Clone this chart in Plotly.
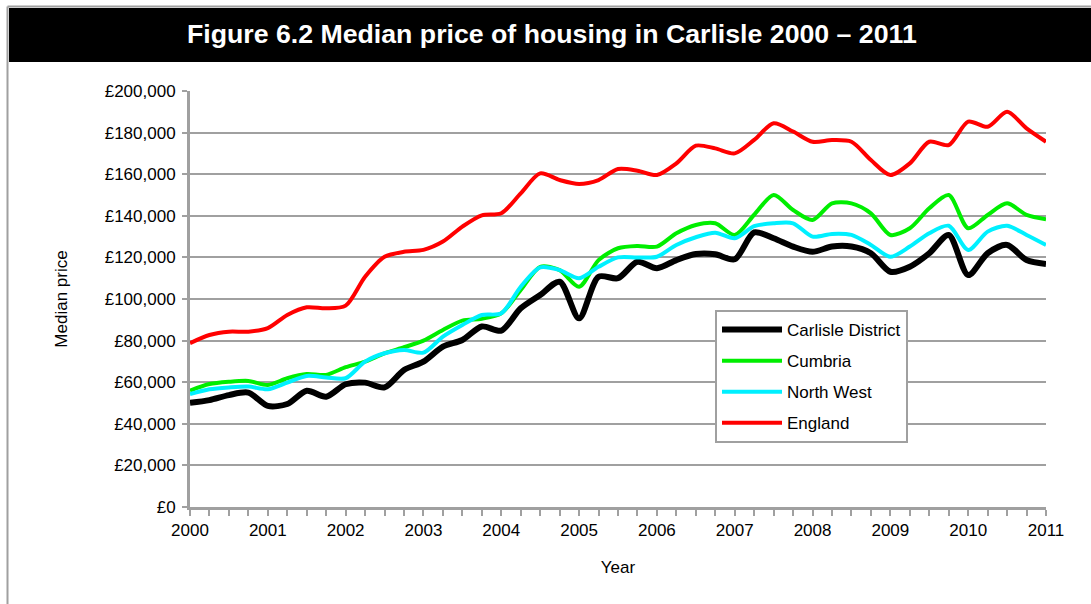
import plotly.graph_objects as go

# Quarterly data, 2000 Q1 .. 2011 Q1
start_year = 2000
n_quarters = 45
quarters = [start_year + i * 0.25 for i in range(n_quarters)]

carlisle = [50100, 51400, 53800, 55000, 48600, 49500, 55900, 53000, 59000, 59800,
            57500, 65900, 69900, 77100, 80300, 86800, 84800, 95500, 101900, 108300,
            90700, 110700, 110000, 117900, 114800, 118700, 121600, 121500, 119100, 132000,
            129200, 125200, 122700, 125200, 125200, 122000, 113100, 115500, 122000, 130800,
            111500, 122000, 126000, 118700, 116800]

cumbria = [56000, 59100, 60200, 60600, 58700, 61900, 63900, 63500, 67200, 69900,
           73900, 76800, 80000, 85100, 89600, 90500, 93100, 104300, 115500, 113900,
           105900, 118700, 124400, 125500, 125200, 131600, 135600, 136400, 130800, 140500,
           150000, 142800, 138000, 146000, 146000, 141200, 130800, 134000, 143600, 150000,
           134000, 140400, 146000, 140400, 138300]

north_west = [54300, 56600, 57500, 57900, 56600, 59800, 63000, 62300, 61900, 69900,
              73900, 75500, 74200, 81900, 87500, 92300, 93100, 105900, 115200, 113900,
              110000, 115500, 120000, 120000, 120300, 126000, 129700, 131900, 129200, 135000,
              136400, 136400, 130000, 131300, 130800, 126000, 120300, 125200, 131600, 135200,
              123600, 132400, 135200, 130800, 126000]

england = [78800, 82700, 84300, 84300, 86000, 92300, 96000, 95500, 96800, 110700,
           120300, 122700, 123600, 127600, 134800, 140200, 141200, 150800, 160400, 157200,
           155300, 157200, 162500, 161700, 159600, 165200, 173700, 172400, 170000, 176500,
           184500, 180500, 175600, 176400, 175600, 166800, 159600, 165200, 175600, 174000,
           185300, 182800, 190000, 182000, 175600]

series_names = ["Carlisle District", "Cumbria", "North West", "England"]
series_values = [carlisle, cumbria, north_west, england]
series_colors = ["#000000", "#00ee00", "#00f0ff", "#ff0000"]
series_widths = [6, 4, 4, 4]

year_ticks = list(range(2000, 2012))
price_ticks = list(range(0, 200001, 20000))
price_labels = [f"£{v:,}" for v in price_ticks]

W, H = 1091, 604
L, R, T, B = 190, 1046, 91, 507

def px(x):
    return (x - L) / (R - L)

def py(y):
    return (B - y) / (B - T)

fig = go.Figure()
for i, (name, vals, col, lw) in enumerate(zip(series_names, series_values, series_colors, series_widths)):
    fig.add_trace(go.Scatter(
        x=quarters, y=vals, name=name, mode="lines",
        line=dict(color=col, width=lw, shape="spline", smoothing=0.8),
        legendgroup=f"g{i}",
    ))

grid_col = "#a0a0a0"
font_family = "Liberation Sans, Arial, sans-serif"

fig.update_layout(
    width=W, height=H,
    margin=dict(l=L, r=W - R, t=T, b=H - B, pad=0),
    paper_bgcolor="white", plot_bgcolor="white",
    font=dict(family=font_family, size=17, color="black"),
    showlegend=True,
    legend=dict(
        x=px(715), y=py(310), xanchor="left", yanchor="top",
        bgcolor="white", bordercolor=grid_col, borderwidth=2,
        font=dict(size=17), tracegroupgap=6, itemwidth=60,
    ),
    xaxis=dict(
        range=[2000, 2011], tickvals=year_ticks, ticktext=[str(y) for y in year_ticks],
        showgrid=False, zeroline=False,
        showline=True, linecolor=grid_col, linewidth=3,
        ticks="outside", ticklen=6, tickwidth=2, tickcolor=grid_col,
        minor=dict(dtick=0.25, tick0=2000, ticks="outside", ticklen=6, tickwidth=2, tickcolor=grid_col, showgrid=False),
        title=dict(text="Year", standoff=22, font=dict(size=17)),
        tickfont=dict(size=17),
    ),
    yaxis=dict(
        range=[0, 200000], tickvals=price_ticks, ticktext=price_labels,
        showgrid=True, gridcolor=grid_col, gridwidth=2,
        zeroline=False,
        showline=True, linecolor=grid_col, linewidth=3,
        ticks="outside", ticklen=5, tickwidth=2, tickcolor=grid_col,
        ticklabelstandoff=3,
        title=dict(text="Median price", standoff=33, font=dict(size=17)),
        tickfont=dict(size=17),
    ),
)

# outer frame and title bar
fig.add_shape(type="line", xref="paper", yref="paper",
              x0=px(7.5), x1=px(W), y0=py(6.5), y1=py(6.5),
              line=dict(color=grid_col, width=2), layer="above")
fig.add_shape(type="line", xref="paper", yref="paper",
              x0=px(7.5), x1=px(7.5), y0=py(6.5), y1=py(H),
              line=dict(color=grid_col, width=2), layer="above")
fig.add_shape(type="rect", xref="paper", yref="paper",
              x0=px(9), x1=px(W + 2), y0=py(62), y1=py(8),
              fillcolor="black", line=dict(width=0), layer="above")
fig.add_annotation(
    xref="paper", yref="paper", x=px(552), y=py(34),
    text="<b>Figure 6.2 Median price of housing in Carlisle 2000 – 2011</b>",
    showarrow=False, font=dict(color="white", size=26.7, family=font_family),
    xanchor="center", yanchor="middle",
)

fig.write_html("out.html", config={"displayModeBar": False},
               post_script="document.body.style.margin='0px';")
